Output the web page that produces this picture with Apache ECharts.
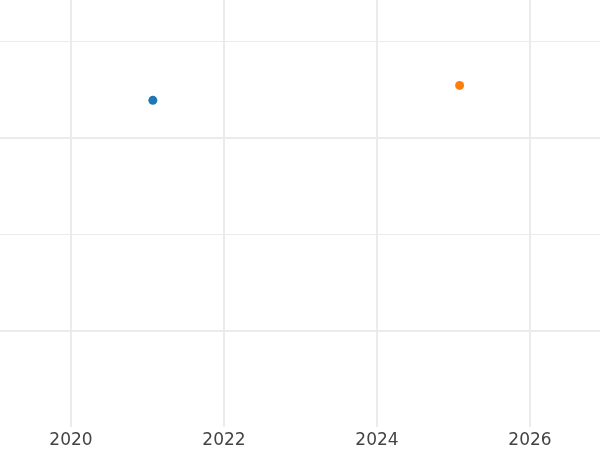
<!DOCTYPE html>
<html>
<head>
<meta charset="utf-8">
<script src="https://cdn.jsdelivr.net/npm/echarts@6/dist/echarts.min.js"></script>
<style>html,body{margin:0;padding:0;background:#fff}#c{width:600px;height:450px}</style>
</head>
<body>
<div id="c"></div>
<script>
// Data (x = fractional year, y = value)
const seriesNames = ['A', 'B'];
const seriesX = [2021.07, 2025.08];
const seriesY = [2.385, 2.54];
const seriesColors = ['#1f77b4', '#ff7f0e'];
const xRange = [2019.072, 2026.915];
const yRange = [-1, 3.425];

const chart = echarts.init(document.getElementById('c'), null, {renderer: 'canvas'});
const grid = '#ebebeb';
chart.setOption({
  animation: false,
  backgroundColor: '#fff',
  grid: {left: 0, right: 0, top: 0, bottom: 23, containLabel: false},
  xAxis: {
    type: 'value', min: xRange[0], max: xRange[1], splitNumber: 4,
    axisLine: {show: false}, axisTick: {show: false},
    axisLabel: {color: '#444', fontSize: 17, fontFamily: 'DejaVu Sans', margin: 5,
      showMinLabel: false, showMaxLabel: false, formatter: v => String(Math.round(v))},
    splitLine: {show: true, showMinLine: false, showMaxLine: false, lineStyle: {color: grid, width: 2}}
  },
  yAxis: [{
    type: 'value', min: yRange[0], max: yRange[1], splitNumber: 2,
    axisLine: {show: false}, axisTick: {show: false}, axisLabel: {show: false},
    splitLine: {show: true, showMinLine: false, showMaxLine: false, lineStyle: {color: grid, width: 2}}
  }, {
    // minor grid lines, halfway between major ones
    type: 'value', position: 'left', min: yRange[0] - 1 + 2, max: yRange[1] + 1, splitNumber: 2,
    axisLine: {show: false}, axisTick: {show: false}, axisLabel: {show: false},
    splitLine: {show: true, showMinLine: false, showMaxLine: false, lineStyle: {color: grid, width: 1}}
  }],
  series: seriesNames.map((n, i) => ({
    name: n, type: 'scatter', symbolSize: 9, yAxisIndex: 0,
    itemStyle: {color: seriesColors[i], opacity: 1},
    data: [[seriesX[i], seriesY[i]]]
  }))
});
</script>
</body>
</html>
